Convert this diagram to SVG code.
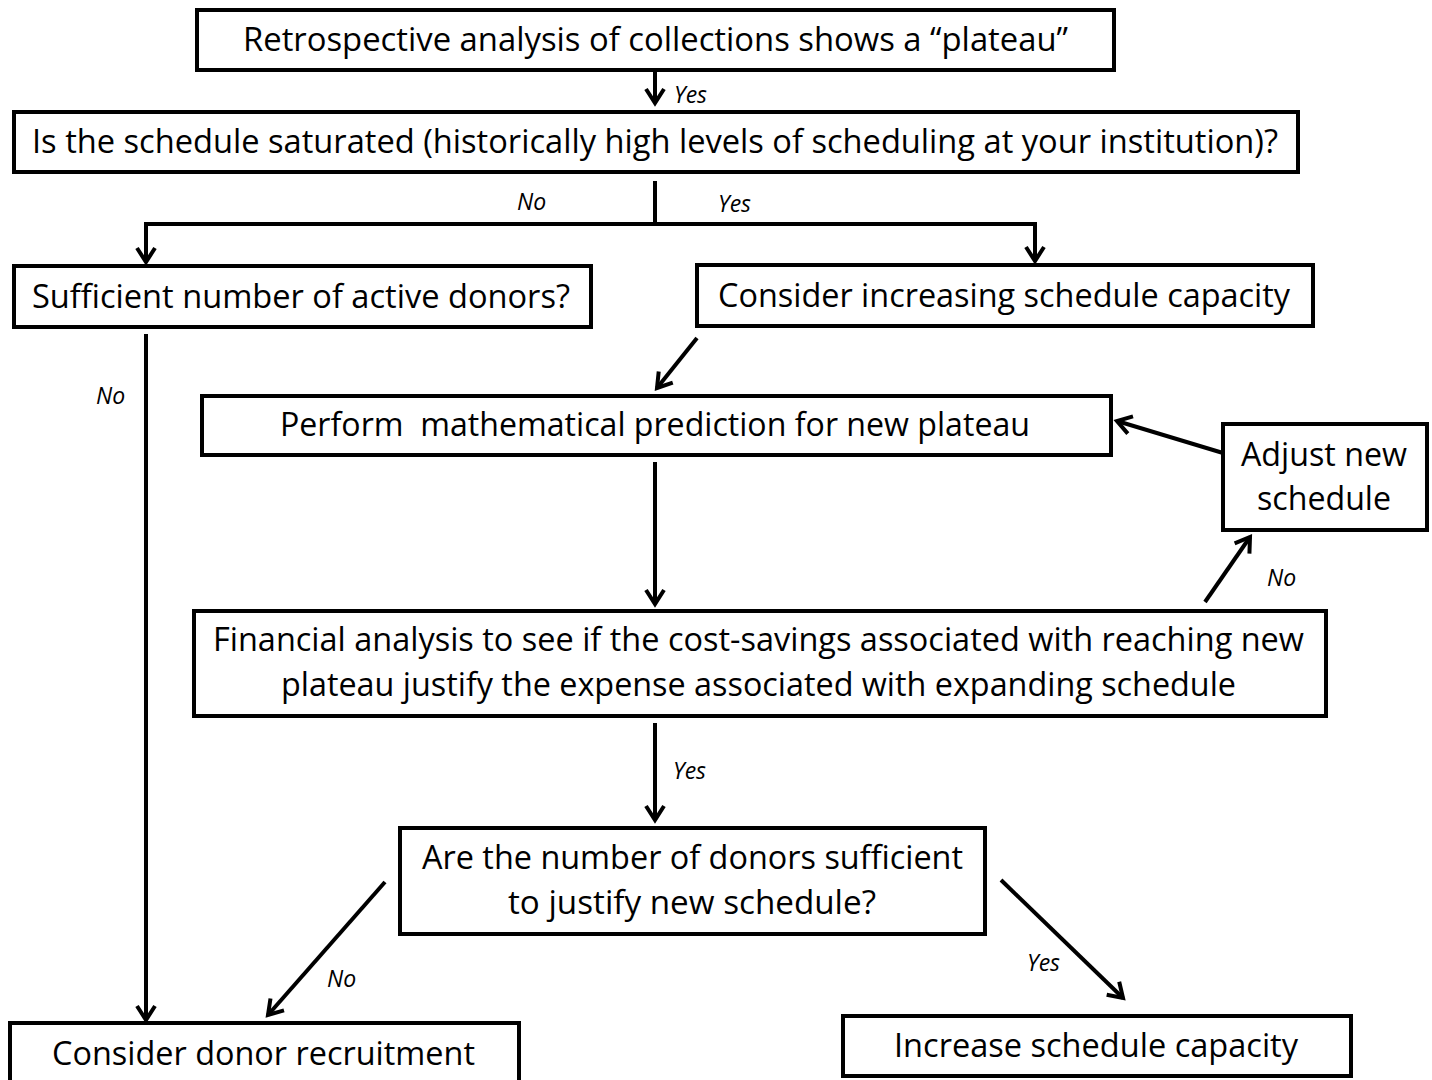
<svg xmlns="http://www.w3.org/2000/svg" width="1432" height="1080" viewBox="0 0 1432 1080">
<defs>
<style>
.box{fill:#fff;stroke:#000;stroke-width:4}
.t{font-family:"Open Sans","Noto Sans",sans-serif;font-size:32px;fill:#000}
.lbl{font-family:"Open Sans","Noto Sans",sans-serif;font-size:23px;font-style:italic;fill:#000}
.c{fill:none;stroke:#000;stroke-width:4}
</style>
<marker id="ah" viewBox="0 0 24 24" refX="20" refY="12" markerWidth="24" markerHeight="24" markerUnits="userSpaceOnUse" orient="auto">
<path d="M6,3 L20,12 L6,21" fill="none" stroke="#000" stroke-width="4"/>
</marker>
</defs>
<rect width="1432" height="1080" fill="#fff"/>
<g id="connectors">
<line class="c" x1="655" y1="70" x2="655" y2="103" marker-end="url(#ah)"/>
<text class="lbl" x="674" y="103">Yes</text>
<polyline class="c" points="655,181 655,224"/>
<polyline class="c" points="146,262 146,224 1035,224 1035,261" marker-end="url(#ah)"/>
<line class="c" x1="146" y1="240" x2="146" y2="262" marker-end="url(#ah)"/>
<text class="lbl" x="517" y="210">No</text>
<text class="lbl" x="718" y="212">Yes</text>
<line class="c" x1="146" y1="334" x2="146" y2="1020" marker-end="url(#ah)"/>
<text class="lbl" x="96" y="404">No</text>
<line class="c" x1="697" y1="338" x2="657" y2="388" marker-end="url(#ah)"/>
<line class="c" x1="655" y1="462" x2="655" y2="604" marker-end="url(#ah)"/>
<line class="c" x1="1223" y1="453" x2="1117" y2="421" marker-end="url(#ah)"/>
<line class="c" x1="1205" y1="602" x2="1250" y2="537" marker-end="url(#ah)"/>
<text class="lbl" x="1267" y="586">No</text>
<line class="c" x1="655" y1="723" x2="655" y2="820" marker-end="url(#ah)"/>
<text class="lbl" x="673" y="779">Yes</text>
<line class="c" x1="385" y1="882" x2="268" y2="1015" marker-end="url(#ah)"/>
<text class="lbl" x="327" y="987">No</text>
<line class="c" x1="1001" y1="880" x2="1123" y2="998" marker-end="url(#ah)"/>
<text class="lbl" x="1027" y="971">Yes</text>
</g>
<g id="n1"><rect class="box" x="197" y="10" width="917" height="60"/>
<text class="t" x="243" y="51" textLength="825" lengthAdjust="spacingAndGlyphs">Retrospective analysis of collections shows a “plateau”</text></g>
<g id="n2"><rect class="box" x="14" y="112" width="1284" height="60"/>
<text class="t" x="32" y="153" textLength="1246" lengthAdjust="spacingAndGlyphs">Is the schedule saturated (historically high levels of scheduling at your institution)?</text></g>
<g id="n3"><rect class="box" x="14" y="266" width="577" height="61"/>
<text class="t" x="32" y="308" textLength="538" lengthAdjust="spacingAndGlyphs">Sufficient number of active donors?</text></g>
<g id="n4"><rect class="box" x="697" y="265" width="616" height="61"/>
<text class="t" x="718" y="307" textLength="572" lengthAdjust="spacingAndGlyphs">Consider increasing schedule capacity</text></g>
<g id="n5"><rect class="box" x="202" y="396" width="909" height="59"/>
<text class="t" x="280" y="436" textLength="750" lengthAdjust="spacingAndGlyphs" style="white-space:pre">Perform  mathematical prediction for new plateau</text></g>
<g id="n6"><rect class="box" x="1223" y="424" width="204" height="106"/>
<text class="t" x="1324" y="466" text-anchor="middle" textLength="166" lengthAdjust="spacingAndGlyphs">Adjust new</text>
<text class="t" x="1324" y="510" text-anchor="middle" textLength="134" lengthAdjust="spacingAndGlyphs">schedule</text></g>
<g id="n7"><rect class="box" x="194" y="611" width="1132" height="105"/>
<text class="t" x="213" y="651" textLength="1091" lengthAdjust="spacingAndGlyphs">Financial analysis to see if the cost-savings associated with reaching new</text>
<text class="t" x="281" y="696" textLength="955" lengthAdjust="spacingAndGlyphs">plateau justify the expense associated with expanding schedule</text></g>
<g id="n8"><rect class="box" x="400" y="828" width="585" height="106"/>
<text class="t" x="422" y="869" textLength="541" lengthAdjust="spacingAndGlyphs">Are the number of donors sufficient</text>
<text class="t" x="508" y="914" textLength="368" lengthAdjust="spacingAndGlyphs">to justify new schedule?</text></g>
<g id="n9"><rect class="box" x="10" y="1023" width="509" height="70"/>
<text class="t" x="52" y="1065" textLength="423" lengthAdjust="spacingAndGlyphs">Consider donor recruitment</text></g>
<g id="n10"><rect class="box" x="843" y="1016" width="508" height="60"/>
<text class="t" x="894" y="1057" textLength="404" lengthAdjust="spacingAndGlyphs">Increase schedule capacity</text></g>
</svg>
